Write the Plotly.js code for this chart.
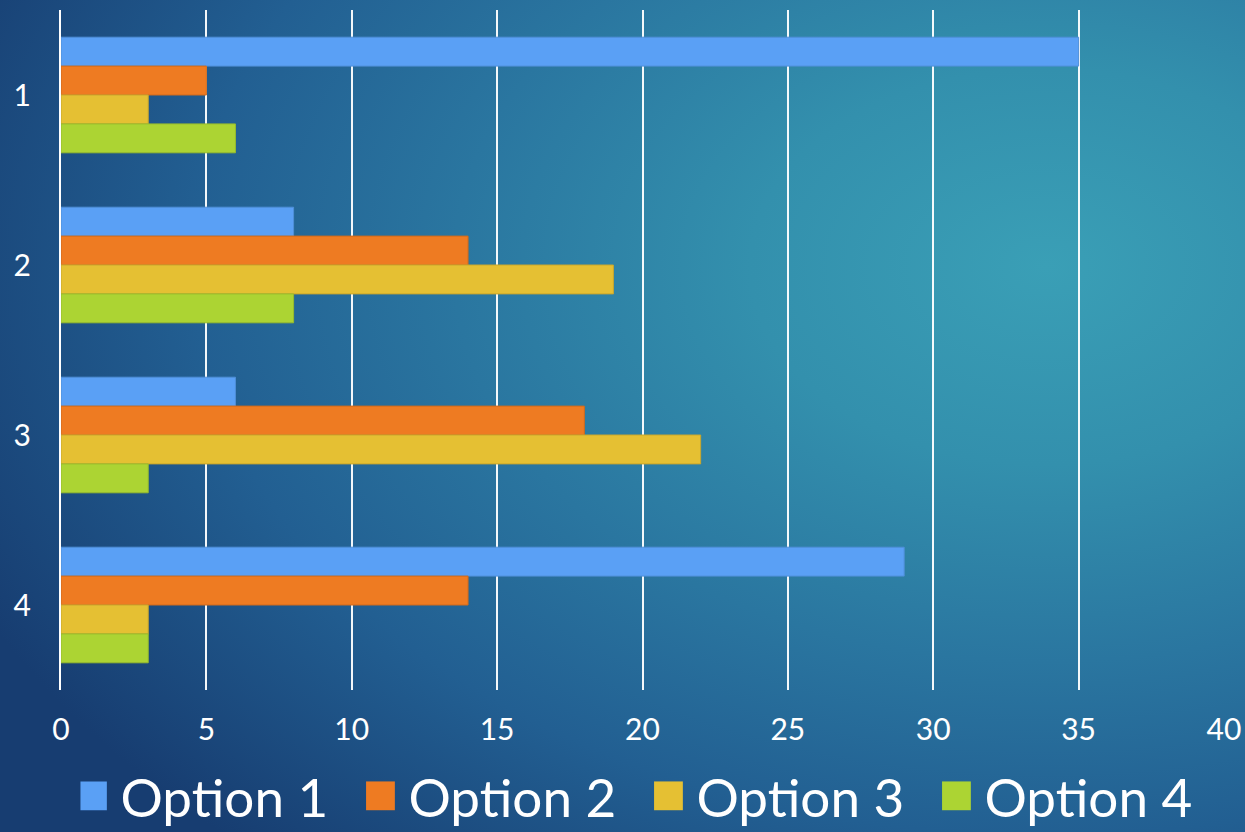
<!DOCTYPE html>
<html>
<head>
<meta charset="utf-8">
<script src="https://cdn.plot.ly/plotly-3.0.1.min.js"></script>
<style>
  html, body { margin: 0; padding: 0; }
  body {
    width: 1245px; height: 832px; overflow: hidden;
    background: radial-gradient(ellipse 95% 95% at 84% 32%, #3a9fb6 0%, #3390ad 25%, #2a76a0 50%, #225f92 72%, #173d71 100%);
  }
  #chart { width: 1245px; height: 832px; }
</style>
</head>
<body>
<div id="chart"></div>
<script>
const categories = ["1", "2", "3", "4"];
const seriesNames = ["Option 1", "Option 2", "Option 3", "Option 4"];
const option1 = [35, 8, 6, 29];
const option2 = [5, 14, 18, 14];
const option3 = [3, 19, 22, 3];
const option4 = [6, 8, 3, 3];
const xTicks = [0, 5, 10, 15, 20, 25, 30, 35, 40];

const seriesValues = [option1, option2, option3, option4];
const fills = ["#5aa0f5", "#ee7b22", "#e5c033", "#acd433"];
const edges = ["#4f8fd8", "#d06a1c", "#c9a72c", "#97bb2d"];

const FONT = "Lato, 'Open Sans', sans-serif";

const traces = seriesValues.map((vals, i) => ({
  type: "bar",
  orientation: "h",
  name: seriesNames[i],
  y: categories,
  x: vals,
  marker: { color: fills[i], line: { color: edges[i], width: 1 } },
  hoverinfo: "x+name"
}));

const layout = {
  width: 1245,
  height: 832,
  paper_bgcolor: "rgba(0,0,0,0)",
  plot_bgcolor: "rgba(0,0,0,0)",
  margin: { l: 61, r: 21, t: 10, b: 142, pad: 0, autoexpand: false },
  barmode: "group",
  bargap: 0.32,
  bargroupgap: 0,
  font: { family: FONT, color: "#ffffff" },
  showlegend: true,
  legend: {
    orientation: "h",
    x: 0.512, xanchor: "center",
    y: -0.216, yanchor: "bottom",
    entrywidth: 243,
    entrywidthmode: "pixels",
    font: { size: 53, color: "#ffffff", family: FONT },
    bgcolor: "rgba(0,0,0,0)",
    itemclick: false
  },
  xaxis: {
    range: [0, 40],
    tickvals: xTicks,
    ticktext: xTicks.map(String),
    showgrid: true,
    gridcolor: "rgba(255,255,255,0.95)",
    gridwidth: 2,
    zeroline: false,
    showline: false,
    ticks: "",
    automargin: false,
    ticklabelstandoff: 19,
    tickfont: { size: 30, color: "#ffffff", family: FONT },
    fixedrange: true
  },
  yaxis: {
    type: "category",
    categoryorder: "array",
    categoryarray: categories,
    autorange: "reversed",
    showgrid: false,
    zeroline: false,
    showline: true,
    linecolor: "#ffffff",
    linewidth: 2,
    ticks: "",
    automargin: false,
    ticklabelstandoff: 22,
    tickfont: { size: 30, color: "#ffffff", family: FONT },
    fixedrange: true
  }
};

Plotly.newPlot("chart", traces, layout, { displayModeBar: false, staticPlot: true }).then(() => {
  document.querySelectorAll("#chart .legendpoints path").forEach(p => {
    p.setAttribute("transform", "translate(12,0) scale(2.4)");
    p.style.strokeWidth = "0px";
  });
});
</script>
</body>
</html>
